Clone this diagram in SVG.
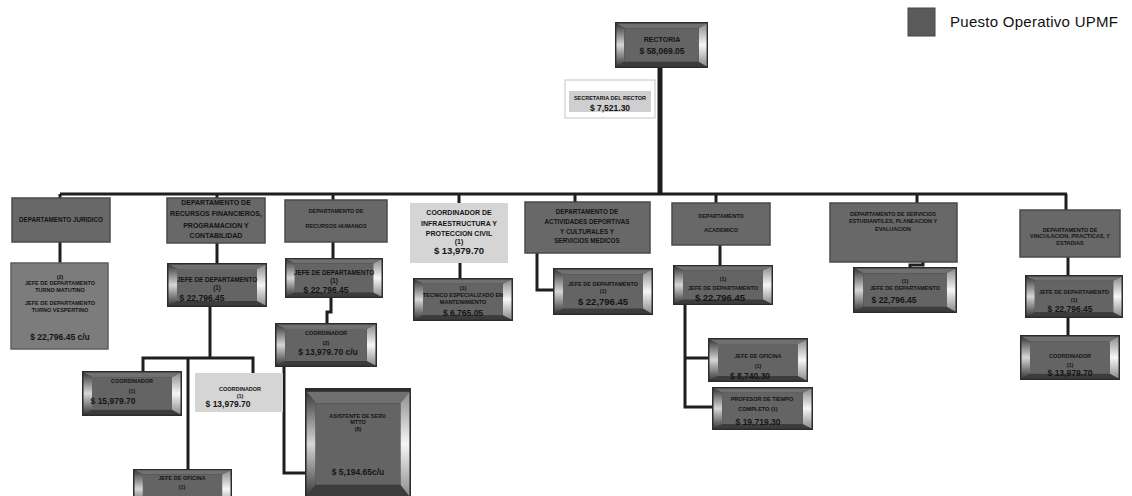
<svg xmlns="http://www.w3.org/2000/svg" width="1132" height="496" viewBox="0 0 1132 496">
<defs>
<style>
.t{font-family:"Liberation Sans",Arial,sans-serif;font-weight:bold;fill:#141414;text-anchor:middle}
.a{font-size:5.5px}.b{font-size:6.3px}.d{font-size:7px}.c{font-size:8.5px}.e{font-size:9.5px}
.lg{font-family:"Liberation Sans",Arial,sans-serif;font-size:15px;fill:#111}
.flat{fill:#686868;stroke:#4a4a4a;stroke-width:1.5}
.flat2{fill:#7c7c7c;stroke:#5e5e5e;stroke-width:1.5}
.lite{fill:#d5d5d5}
.ln{fill:none;stroke:#1e1e1e;stroke-width:3}
</style>
<linearGradient id="gl" x1="0" y1="0" x2="0" y2="1">
<stop offset="0" stop-color="#3a3a3a"/><stop offset="0.5" stop-color="#d6d6d6"/><stop offset="1" stop-color="#3a3a3a"/>
</linearGradient>
<linearGradient id="gr" x1="0" y1="0" x2="0" y2="1">
<stop offset="0" stop-color="#8c8c8c"/><stop offset="0.5" stop-color="#f6f6f6"/><stop offset="1" stop-color="#8c8c8c"/>
</linearGradient>
<symbol id="bev" viewBox="0 0 100 44" preserveAspectRatio="none">
<rect x="0" y="0" width="100" height="44" fill="#2c2c2c"/>
<polygon points="1.5,1.5 98.5,1.5 90,6 10,6" fill="#707070"/>
<polygon points="1.5,42.5 98.5,42.5 90,38 10,38" fill="#3c3c3c"/>
<polygon points="1.5,1.5 10,6 10,38 1.5,42.5" fill="url(#gl)"/>
<polygon points="98.5,1.5 90,6 90,38 98.5,42.5" fill="url(#gr)"/>
<rect x="10" y="6" width="80" height="32" fill="#646464"/>
</symbol>
</defs>
<rect x="0" y="0" width="1132" height="496" fill="#ffffff"/>

<g id="connectors">
<path class="ln" d="M60 194 H1067"/>
<path class="ln" style="stroke-width:5" d="M660 68 V194"/>
<path class="ln" d="M60 194 V198 M217 194 V198 M333 194 V200 M459 194 V203 M575 194 V202 M716 194 V203 M917 194 V203 M1066 194 V210"/>
<path class="ln" d="M60 242 V263 M217 243 V263 M333 242 V258 M460 263 V278 M720 245 V265 M1068 257 V275"/>
<path class="ln" d="M537 253 V290 H553"/>
<path class="ln" d="M923 262 V265 H910 V267"/>
<path class="ln" d="M210 307 V358 M143 371 V358 H253 V373 M188 358 V469"/>
<path class="ln" d="M331 298 V312 H327 V323"/>
<path class="ln" d="M284 367 V473 H305"/>
<path class="ln" d="M685 305 V407 H712 M685 358 H708"/>
<path class="ln" d="M1068 318 V335"/>
</g>

<g id="legend">
<rect x="908" y="8" width="27" height="28" fill="#5a5a5a" stroke="#444" stroke-width="1"/>
<text class="lg" x="950" y="27" textLength="168">Puesto Operativo UPMF</text>
</g>

<g id="rectoria">
<use href="#bev" x="615" y="22" width="93" height="46"/>
<text class="t d" x="662" y="42">RECTORIA</text>
<text class="t c" x="662" y="54">$ 58,069.05</text>
</g>

<g id="secretaria">
<rect x="565" y="80" width="90" height="38" fill="#ffffff" stroke="#c4c4c4" stroke-width="1"/>
<rect x="569" y="91" width="82" height="21" fill="#cfcfcf"/>
<text class="t a" x="610" y="100">SECRETARIA DEL RECTOR</text>
<text class="t c" x="610" y="111">$ 7,521.30</text>
</g>

<g id="dep-juridico">
<rect class="flat" x="12" y="198" width="98" height="44"/>
<text class="t b" x="61" y="222">DEPARTAMENTO JURIDICO</text>
</g>

<g id="dep-financieros">
<rect class="flat" x="167" y="198" width="98" height="45"/>
<text class="t d" x="216" y="205">DEPARTAMENTO DE</text>
<text class="t d" x="216" y="216">RECURSOS FINANCIEROS,</text>
<text class="t d" x="216" y="228">PROGRAMACION Y</text>
<text class="t d" x="216" y="238">CONTABILIDAD</text>
</g>

<g id="dep-humanos">
<rect class="flat" x="285" y="200" width="102" height="42"/>
<text class="t a" x="336" y="213">DEPARTAMENTO DE</text>
<text class="t a" x="336" y="228">RECURSOS HUMANOS</text>
</g>

<g id="coord-infra">
<rect class="lite" x="410" y="203" width="98" height="60"/>
<text class="t d" x="459" y="215">COORDINADOR DE</text>
<text class="t d" x="459" y="226">INFRAESTRUCTURA Y</text>
<text class="t d" x="459" y="236">PROTECCION CIVIL</text>
<text class="t d" x="459" y="244">(1)</text>
<text class="t e" x="459" y="254">$ 13,979.70</text>
</g>

<g id="dep-actividades">
<rect class="flat" x="525" y="202" width="125" height="51"/>
<text class="t b" x="587" y="214">DEPARTAMENTO DE</text>
<text class="t b" x="587" y="224">ACTIVIDADES DEPORTIVAS</text>
<text class="t b" x="587" y="234">Y CULTURALES Y</text>
<text class="t b" x="587" y="243">SERVICIOS MEDICOS</text>
</g>

<g id="dep-academico">
<rect class="flat" x="672" y="203" width="98" height="42"/>
<text class="t a" x="721" y="218">DEPARTAMENTO</text>
<text class="t a" x="721" y="232">ACADEMICO</text>
</g>

<g id="dep-servicios">
<rect class="flat" x="830" y="203" width="127" height="59"/>
<text class="t a" x="893" y="216">DEPARTAMENTO DE SERVICIOS</text>
<text class="t a" x="893" y="223">ESTUDIANTILES, PLANEACION Y</text>
<text class="t a" x="893" y="231">EVALUACION</text>
</g>

<g id="dep-vinculacion">
<rect class="flat" x="1020" y="210" width="100" height="47"/>
<text class="t a" x="1070" y="232">DEPARTAMENTO DE</text>
<text class="t a" x="1070" y="238">VINCULACION, PRACTICAS, Y</text>
<text class="t a" x="1070" y="245">ESTADIAS</text>
</g>

<g id="jefe-juridico">
<rect class="flat2" x="11" y="263" width="97" height="86"/>
<text class="t a" x="60" y="279">(2)</text>
<text class="t a" x="60" y="285">JEFE DE DEPARTAMENTO</text>
<text class="t a" x="60" y="292">TURNO MATUTINO</text>
<text class="t a" x="60" y="305">JEFE DE DEPARTAMENTO</text>
<text class="t a" x="60" y="312">TURNO VESPERTINO</text>
<text class="t c" x="60" y="340">$ 22,796.45 c/u</text>
</g>

<g id="jefe-financieros">
<use href="#bev" x="167" y="263" width="100" height="44"/>
<text class="t b" x="217" y="282">JEFE DE DEPARTAMENTO</text>
<text class="t b" x="217" y="290">(1)</text>
<text class="t c" x="202" y="301">$ 22,796.45</text>
</g>

<g id="jefe-humanos">
<use href="#bev" x="285" y="258" width="98" height="40"/>
<text class="t b" x="334" y="275">JEFE DE DEPARTAMENTO</text>
<text class="t b" x="334" y="283">(1)</text>
<text class="t c" x="326" y="293">$ 22,796.45</text>
</g>

<g id="tecnico">
<use href="#bev" x="413" y="278" width="100" height="43"/>
<text class="t a" x="463" y="290">(1)</text>
<text class="t a" x="463" y="297">TECNICO ESPECIALIZADO EN</text>
<text class="t a" x="463" y="304">MANTENIMIENTO</text>
<text class="t c" x="463" y="316">$ 6,765.05</text>
</g>

<g id="jefe-actividades">
<use href="#bev" x="553" y="268" width="100" height="47"/>
<text class="t a" x="603" y="286">JEFE DE DEPARTAMENTO</text>
<text class="t a" x="603" y="293">(1)</text>
<text class="t e" x="603" y="305">$ 22,796.45</text>
</g>

<g id="jefe-academico">
<use href="#bev" x="673" y="265" width="100" height="40"/>
<text class="t a" x="723" y="281">(1)</text>
<text class="t a" x="723" y="290">JEFE DE DEPARTAMENTO</text>
<text class="t e" x="720" y="301">$ 22,796.45</text>
</g>

<g id="jefe-servicios">
<use href="#bev" x="853" y="267" width="104" height="46"/>
<text class="t a" x="905" y="283">(1)</text>
<text class="t a" x="905" y="290">JEFE DE DEPARTAMENTO</text>
<text class="t c" x="894" y="303">$ 22,796.45</text>
</g>

<g id="jefe-vinculacion">
<use href="#bev" x="1025" y="275" width="98" height="43"/>
<text class="t a" x="1074" y="294">JEFE DE DEPARTAMENTO</text>
<text class="t a" x="1074" y="302">(1)</text>
<text class="t c" x="1070" y="312">$ 22,796.45</text>
</g>

<g id="coord-humanos">
<use href="#bev" x="275" y="323" width="102" height="44"/>
<text class="t a" x="326" y="335">COORDINADOR</text>
<text class="t a" x="326" y="345">(2)</text>
<text class="t c" x="328" y="355">$ 13,979.70 c/u</text>
</g>

<g id="coord-fin-1">
<use href="#bev" x="82" y="371" width="100" height="45"/>
<text class="t a" x="132" y="383">COORDINADOR</text>
<text class="t a" x="132" y="393">(1)</text>
<text class="t c" x="113" y="404">$ 15,979.70</text>
</g>

<g id="coord-fin-2">
<rect class="lite" x="195" y="373" width="88" height="39"/>
<text class="t a" x="240" y="391">COORDINADOR</text>
<text class="t a" x="240" y="398">(1)</text>
<text class="t c" x="228" y="407">$ 13,979.70</text>
</g>

<g id="asistente">
<use href="#bev" x="305" y="388" width="106" height="112"/>
<text class="t a" x="358" y="418">ASISTENTE DE SERV.</text>
<text class="t a" x="358" y="424">MTTO</text>
<text class="t a" x="358" y="431">(8)</text>
<text class="t c" x="358" y="475">$ 5,194.65c/u</text>
</g>

<g id="jefe-oficina-fin">
<use href="#bev" x="133" y="469" width="99" height="40"/>
<text class="t a" x="182" y="480">JEFE DE OFICINA</text>
<text class="t a" x="182" y="489">(1)</text>
</g>

<g id="jefe-oficina-academico">
<use href="#bev" x="708" y="338" width="100" height="44"/>
<text class="t a" x="758" y="358">JEFE DE OFICINA</text>
<text class="t a" x="758" y="368">(1)</text>
<text class="t c" x="750" y="379">$ 8,740.30</text>
</g>

<g id="profesor">
<use href="#bev" x="712" y="387" width="101" height="43"/>
<text class="t a" x="762" y="401">PROFESOR DE TIEMPO</text>
<text class="t a" x="758" y="411">COMPLETO (1)</text>
<text class="t c" x="758" y="425">$ 19,719.30</text>
</g>

<g id="coord-vinculacion">
<use href="#bev" x="1020" y="335" width="100" height="45"/>
<text class="t a" x="1070" y="358">COORDINADOR</text>
<text class="t a" x="1070" y="367">(1)</text>
<text class="t c" x="1070" y="376">$ 13,979.70</text>
</g>
</svg>
